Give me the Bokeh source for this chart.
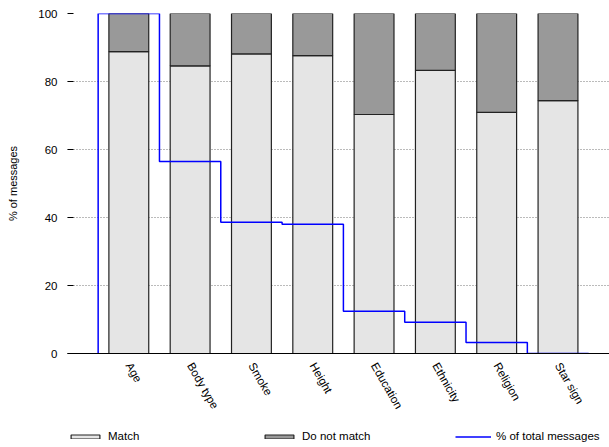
import math
from bokeh.plotting import figure
from bokeh.layouts import column
from bokeh.models import (ColumnDataSource, FixedTicker, Legend, LegendItem, Range1d)
from bokeh.embed import file_html
from bokeh.resources import INLINE

categories = ["Age", "Body type", "Smoke", "Height", "Education", "Ethnicity", "Religion", "Star sign"]
match = [88.8, 84.6, 88.1, 87.6, 70.3, 83.3, 70.9, 74.4]
no_match = [round(100 - m, 1) for m in match]
pct_total = [100, 56.5, 38.6, 38.0, 12.4, 9.2, 3.2, 0]
series_labels = ["Match", "Do not match", "% of total messages"]

FONT = "Liberation Sans"
FILL = ["#e5e5e5", "#999999"]

idx = list(range(len(categories)))
src = ColumnDataSource(dict(x=idx, match=match, no_match=no_match))

p = figure(width=609, height=420, output_backend="svg", toolbar_location=None,
           x_range=Range1d(-1.0, 7.84), y_range=Range1d(0, 100),
           min_border_left=67, min_border_right=0, min_border_top=13, min_border_bottom=67)
p.outline_line_color = None
p.background_fill_color = "white"

bars = p.vbar_stack(["match", "no_match"], x="x", width=0.65, source=src,
                    fill_color=FILL, line_color="#222222", line_width=1.2)

# step line of % of total messages
sx = [-0.5] + [i - 0.5 for i in idx] + [idx[-1] + 0.5]
sy = [0] + pct_total + [pct_total[-1]]
step = p.step(sx, sy, mode="after", line_color="#0000ff", line_width=1.5)

# axes
p.xaxis.ticker = FixedTicker(ticks=idx)
p.xaxis.major_label_overrides = {i: c for i, c in zip(idx, categories)}
p.xaxis.major_label_orientation = -math.pi / 3
p.xaxis.major_tick_line_color = None
p.xaxis.minor_tick_line_color = None
p.xaxis.axis_line_color = "black"
p.xaxis.axis_line_width = 1.2
p.xaxis.major_label_text_font = FONT
p.xaxis.major_label_text_font_size = "11.5px"
p.xaxis.major_label_text_color = "black"
p.xaxis.major_label_standoff = 4

p.yaxis.ticker = FixedTicker(ticks=[0, 20, 40, 60, 80, 100])
p.yaxis.axis_line_color = None
p.yaxis.major_tick_in = 6
p.yaxis.major_tick_out = 0
p.yaxis.major_tick_line_color = "black"
p.yaxis.minor_tick_line_color = None
p.yaxis.major_label_text_font = FONT
p.yaxis.major_label_text_font_size = "11.5px"
p.yaxis.major_label_text_color = "black"
p.yaxis.major_label_standoff = 10
p.yaxis.axis_label = "% of messages"
p.yaxis.axis_label_text_font = FONT
p.yaxis.axis_label_text_font_size = "11px"
p.yaxis.axis_label_text_font_style = "normal"
p.yaxis.axis_label_text_color = "black"
p.yaxis.axis_label_standoff = 16

p.xgrid.grid_line_color = None
p.ygrid.grid_line_color = "#777777"
p.ygrid.grid_line_dash = "1 2"
p.ygrid.grid_line_width = 1

# legend strip below the chart (a separate, axis-less figure); its stand-in
# renderers sit outside its visible range and only supply the legend glyphs
lg = figure(width=609, height=27, output_backend="svg", toolbar_location=None,
            x_range=Range1d(100, 101), y_range=Range1d(1000, 1001),
            x_axis_type=None, y_axis_type=None,
            min_border=0, min_border_left=0, min_border_right=0,
            min_border_top=0, min_border_bottom=0)
lg.outline_line_color = None
lg.xgrid.visible = False
lg.ygrid.visible = False
r_match = lg.vbar(x=[idx[0]], top=[match[0]], width=0.1,
                  fill_color=FILL[0], line_color="#222222", line_width=1.2)
r_nomatch = lg.vbar(x=[idx[1]], top=[no_match[1]], width=0.1,
                    fill_color=FILL[1], line_color="#222222", line_width=1.2)
r_line = lg.line(x=idx[:2], y=pct_total[:2], line_color="#0000ff", line_width=1.5)

legend = Legend(items=[LegendItem(label=series_labels[0], renderers=[r_match]),
                       LegendItem(label=series_labels[1], renderers=[r_nomatch]),
                       LegendItem(label=series_labels[2], renderers=[r_line])],
                orientation="horizontal", location=(0, 5),
                glyph_width=36, glyph_height=5, label_standoff=5, label_width=153,
                spacing=0, padding=0, margin=0,
                border_line_color=None, background_fill_alpha=0,
                label_text_font=FONT, label_text_font_size="11.5px", label_text_color="black")
lg.add_layout(legend, "center")

layout = column(p, lg, spacing=0)
open("out.html", "w").write(file_html(layout, INLINE))
